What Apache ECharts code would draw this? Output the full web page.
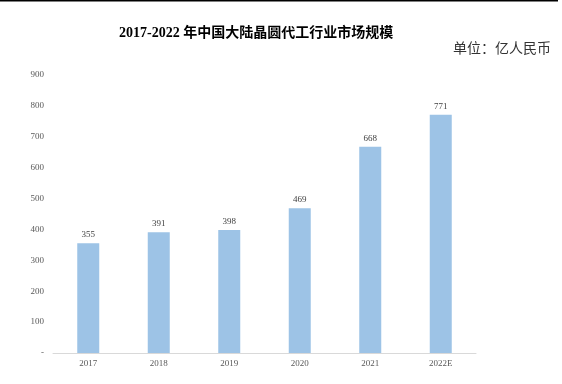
<!DOCTYPE html>
<html><head><meta charset="utf-8">
<script src="https://cdn.jsdelivr.net/npm/echarts@6/dist/echarts.min.js"></script>
<style>html,body{margin:0;padding:0;background:#fff}#c{width:562px;height:384px;position:relative}</style>
</head><body><div id="c"></div>
<script>
var categories = ['2017','2018','2019','2020','2021','2022E'];
var values = [355, 391, 398, 469, 668, 771];
var titleText = '2017-2022 年中国大陆晶圆代工行业市场规模';
var unitText = '单位：亿人民币';

var chart = echarts.init(document.getElementById('c'));
chart.setOption({
  animation: false,
  graphic: [{type:'rect', shape:{x:0,y:0,width:558,height:1.5}, style:{fill:'#000'}}],
  title: [{
    text: titleText, left: 114, top: 21,
    textStyle: {fontSize: 14, fontWeight: 'bold', color: '#000', fontFamily: '"Liberation Serif","Noto Sans CJK SC",serif'}
  },{
    text: unitText, right: 6, top: 37,
    textStyle: {fontSize: 14, fontWeight: 'normal', color: '#333', fontFamily: '"Liberation Serif","Noto Sans CJK SC",serif'}
  }],
  grid: {left: 53, right: 86, top: 75, bottom: 31, containLabel: false},
  xAxis: {
    type: 'category', data: categories,
    axisLine: {lineStyle: {color: '#d9d9d9', width: 1}},
    axisTick: {show: false},
    axisLabel: {color: '#595959', fontSize: 9, fontFamily: '"Liberation Serif",serif', margin: 6}
  },
  yAxis: {
    type: 'value', min: 0, max: 900, interval: 100,
    axisLine: {show: false}, axisTick: {show: false}, splitLine: {show: false},
    axisLabel: {color: '#595959', fontSize: 9, fontFamily: '"Liberation Serif",serif', margin: 9,
      formatter: function(v){ return v === 0 ? '-' : v; }}
  },
  series: [{
    type: 'bar', data: values, barWidth: 22,
    itemStyle: {color: '#9dc3e6'},
    label: {show: true, position: 'top', distance: 4, color: '#404040', fontSize: 9, fontFamily: '"Liberation Serif",serif'}
  }]
});
</script></body></html>
